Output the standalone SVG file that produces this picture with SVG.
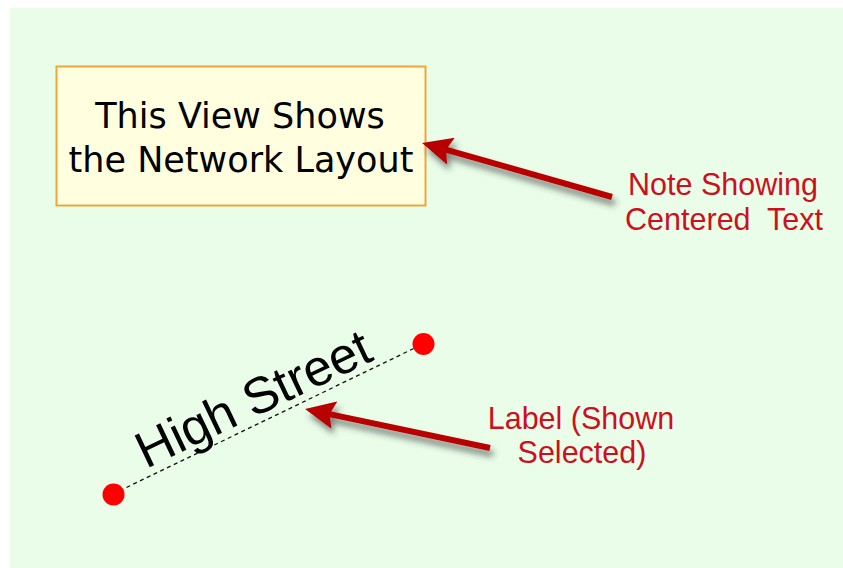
<svg xmlns="http://www.w3.org/2000/svg" width="843" height="568" viewBox="0 0 843 568">
  <style>
    .note-box { fill: #ffffe0; stroke: #eaa83c; stroke-width: 2; }
    .note-text { font-family: "DejaVu Sans", Verdana, sans-serif; font-size: 35px; fill: #000; text-anchor: middle; }
    .callout { font-family: "Liberation Sans", Arial, sans-serif; font-size: 30.5px; fill: #cc1020; text-anchor: middle; white-space: pre; }
    .label-text { font-family: "Liberation Sans", Arial, sans-serif; font-size: 51px; fill: #000; }
    .dot { fill: #ff0000; }
    .sel-line { stroke: #111; stroke-width: 1.3; stroke-dasharray: 4 3.5; fill: none; }
    .arrow { stroke: #b80000; stroke-width: 6; fill: none; marker-end: url(#head); filter: url(#shadow); }
  </style>
  <defs>
    <marker id="head" viewBox="0 0 30 28" refX="10" refY="14" markerWidth="30" markerHeight="28" markerUnits="userSpaceOnUse" orient="auto">
      <path d="M0,0 L30,14 L0,28 L5,14 Z" fill="#b80000"/>
    </marker>
    <filter id="shadow" x="-20%" y="-50%" width="140%" height="200%">
      <feDropShadow dx="3" dy="6" stdDeviation="3" flood-color="#303030" flood-opacity="0.6"/>
    </filter>
  </defs>
  <rect x="10" y="8" width="833" height="560" fill="#e9fde9"/>

  <g id="note">
    <rect class="note-box" x="56.5" y="66.5" width="369" height="139"/>
    <text class="note-text" x="240" y="128">This View Shows</text>
    <text class="note-text" x="241" y="172">the Network Layout</text>
  </g>

  <g id="note-callout">
    <text class="callout" x="723" y="195">Note Showing</text>
    <text class="callout" x="724" y="230">Centered  Text</text>
  </g>

  <g id="street-label">
    <line class="sel-line" x1="113" y1="494" x2="423" y2="344"/>
    <circle class="dot" cx="113.5" cy="494.5" r="11"/>
    <circle class="dot" cx="423.5" cy="344" r="11"/>
    <text class="label-text" transform="translate(146 469) rotate(-25.5)" textLength="254" lengthAdjust="spacing">High Street</text>
  </g>

  <g id="label-callout">
    <text class="callout" x="581" y="429">Label (Shown</text>
    <text class="callout" x="582" y="463">Selected)</text>
  </g>

  <g id="connectors">
    <path class="arrow" d="M612,197 L441.3,148.4"/>
    <path class="arrow" d="M490,448 L324.6,413.1"/>
  </g>
</svg>
